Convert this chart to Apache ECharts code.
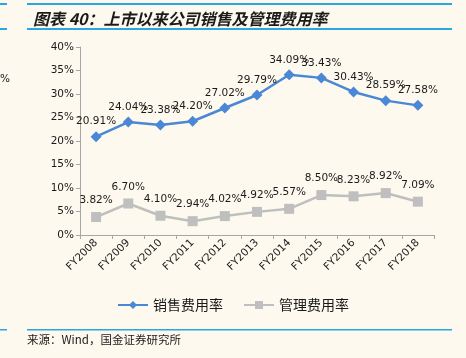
<!DOCTYPE html>
<html><head><meta charset="utf-8">
<script src="https://cdn.jsdelivr.net/npm/echarts@6/dist/echarts.min.js"></script>
<style>html,body{margin:0;padding:0;background:#fdf9ee;}#c{width:466px;height:358px;}</style>
</head><body><div id="c"></div>
<script>
const categories = ['FY2008','FY2009','FY2010','FY2011','FY2012','FY2013','FY2014','FY2015','FY2016','FY2017','FY2018'];
const salesRate = [20.91,24.04,23.38,24.20,27.02,29.79,34.09,33.43,30.43,28.59,27.58];
const adminRate = [3.82,6.70,4.10,2.94,4.02,4.92,5.57,8.50,8.23,8.92,7.09];
const seriesNames = ['销售费用率','管理费用率'];
const yTicks = {min:0, max:40, interval:5};

const chart = echarts.init(document.getElementById('c'), null, {renderer:'canvas'});
const lbl = {show:true, position:'top', distance:4, color:'#1a1a1a', fontSize:10.5, fontFamily:'DejaVu Sans', formatter: p => p.value.toFixed(2)+'%'};
chart.setOption({
  backgroundColor:'#fdf9ee',
  animation:false,
  title:{text:'图表 40：上市以来公司销售及管理费用率', left:28, top:6,
    textStyle:{fontSize:16, fontWeight:'bold', fontStyle:'italic', color:'#1a1a1a', fontFamily:'Noto Sans CJK SC'}},
  graphic:[
    {type:'rect', shape:{x:27,y:3,width:425,height:2}, style:{fill:'#2aa7e2'}},
    {type:'rect', shape:{x:27,y:28,width:425,height:2}, style:{fill:'#2aa7e2'}},
    {type:'rect', shape:{x:0,y:3,width:7,height:2}, style:{fill:'#2aa7e2'}},
    {type:'rect', shape:{x:0,y:28,width:7,height:2}, style:{fill:'#2aa7e2'}},
    {type:'rect', shape:{x:27,y:329,width:425,height:1.5}, style:{fill:'#2aa7e2'}},
    {type:'rect', shape:{x:0,y:329,width:7,height:1.5}, style:{fill:'#2aa7e2'}},
    {type:'text', left:0, top:74, style:{text:'%', fontSize:10.5, fontFamily:'DejaVu Sans', fill:'#1a1a1a'}},
    {type:'text', left:27, top:334, style:{text:'来源：Wind，国金证券研究所', fontSize:11.5, fontFamily:'Noto Sans CJK SC', fill:'#1a1a1a'}}
  ],
  grid:{left:80, right:32, top:47, bottom:123, containLabel:false},
  legend:{data:seriesNames, bottom:41, left:'center', itemWidth:30, itemHeight:10, itemGap:20,
    textStyle:{fontSize:14, color:'#1a1a1a', fontFamily:'Noto Sans CJK SC'}},
  xAxis:{type:'category', data:categories, boundaryGap:true,
    axisLine:{lineStyle:{color:'#a6a6a6', width:1}},
    axisTick:{show:true, length:4, interval:0, lineStyle:{color:'#a6a6a6'}},
    axisLabel:{rotate:45, interval:0, fontSize:10.5, color:'#1a1a1a', fontFamily:'DejaVu Sans', margin:6}},
  yAxis:{type:'value', min:yTicks.min, max:yTicks.max, interval:yTicks.interval,
    axisLine:{show:true, lineStyle:{color:'#a6a6a6', width:1}},
    axisTick:{show:true, length:4, lineStyle:{color:'#a6a6a6'}},
    splitLine:{show:false},
    axisLabel:{formatter:'{value}%', fontSize:10.5, color:'#1a1a1a', fontFamily:'DejaVu Sans', margin:6}},
  series:[
    {name:seriesNames[0], type:'line', data:salesRate, symbol:'diamond', symbolSize:11,
      lineStyle:{color:'#4a88d6', width:2.5}, itemStyle:{color:'#4a88d6'}, label:lbl},
    {name:seriesNames[1], type:'line', data:adminRate, symbol:'rect', symbolSize:10,
      lineStyle:{color:'#bfbfbf', width:2.5}, itemStyle:{color:'#bfbfbf'}, label:Object.assign({}, lbl, {distance:6})}
  ]
});
</script></body></html>
